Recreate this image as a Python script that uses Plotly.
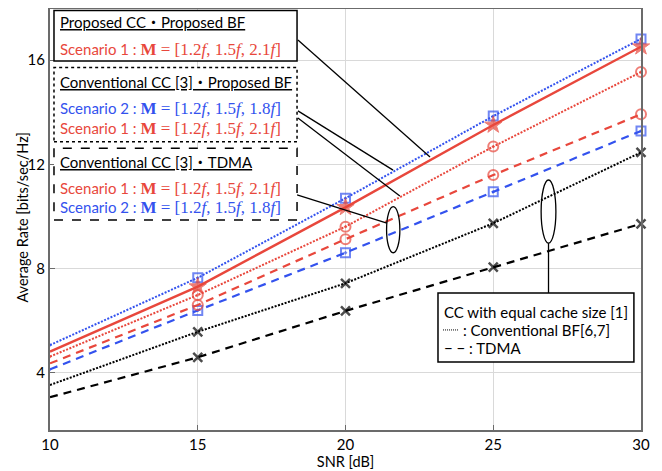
import plotly.graph_objects as go

# ---------------- data ----------------
snr = [10, 15, 20, 25, 30]
prop_cc_prop_bf_s1 = [4.82, 7.31, 10.35, 13.51, 16.51]
conv_cc_prop_bf_s2 = [5.07, 7.65, 10.70, 13.85, 16.81]
conv_cc_prop_bf_s1 = [4.63, 6.99, 9.61, 12.68, 15.54]
conv_cc_tdma_s1 = [4.37, 6.61, 9.13, 11.59, 13.92]
conv_cc_tdma_s2 = [4.14, 6.40, 8.61, 10.95, 13.28]
eq_cache_conv_bf = [3.54, 5.58, 7.44, 9.74, 12.46]
eq_cache_tdma = [3.07, 4.60, 6.38, 8.06, 9.72]

x_ticks = [10, 15, 20, 25, 30]
y_ticks = [4, 8, 12, 16]

RED = "#E8473C"
BLUE = "#3352EE"
SANS = "Lato, 'Noto Sans CJK JP', sans-serif"
SERIF = "'Liberation Serif', 'DejaVu Serif', serif"

fig = go.Figure()


def add_series(y, color, dash, width, symbol, msize, mline=2):
    sizes = [0] + [msize] * (len(snr) - 1)
    fig.add_trace(go.Scatter(
        x=snr, y=y, mode="lines+markers",
        line=dict(color=color, dash=dash, width=width),
        marker=dict(symbol=symbol, size=sizes, color=color,
                    line=dict(color=color, width=mline)),
        showlegend=False, hoverinfo="skip", cliponaxis=False))


add_series(eq_cache_tdma, "black", "8px,6px", 2.2, "x-thin-open", 9, 2.5)
add_series(eq_cache_conv_bf, "black", "2px,1.5px", 2.0, "x-thin-open", 9, 2.5)
add_series(conv_cc_tdma_s2, BLUE, "8px,6px", 2.2, "square-open-dot", 9, 2)
add_series(conv_cc_tdma_s1, RED, "8px,6px", 2.2, "circle-open", 10, 2)
add_series(conv_cc_prop_bf_s1, RED, "2px,1.5px", 2.0, "circle-open-dot", 10, 2)
add_series(conv_cc_prop_bf_s2, BLUE, "2px,1.5px", 2.0, "square-open-dot", 9, 2)
add_series(prop_cc_prop_bf_s1, RED, "solid", 2.4, "star", 13, 1)

shapes = []
annotations = []


def box(x0, x1, y0, y1, dash):
    shapes.append(dict(type="rect", xref="x", yref="y", x0=x0, x1=x1, y0=y0, y1=y1,
                       line=dict(color="black", width=1.5, dash=dash),
                       fillcolor="white", layer="above"))


def text(x, y, s, color="black", size=15):
    annotations.append(dict(x=x, y=y, xref="x", yref="y", text=s, showarrow=False,
                            xanchor="left", yanchor="middle",
                            font=dict(family=SANS, size=size, color=color)))


def scen(n, m3):
    return (f"Scenario {n} : <span style=\"font-family:{SERIF};font-size:17px\">"
            f"<b>M</b> = [1.2<i>f</i>, 1.5<i>f</i>, {m3}<i>f</i>]</span>")


def line(x0, y0, x1, y1, dash="solid", width=1.3):
    shapes.append(dict(type="line", xref="x", yref="y", x0=x0, y0=y0, x1=x1, y1=y1,
                       line=dict(color="black", width=width, dash=dash), layer="above"))


# callout lines
line(18.39, 16.77, 22.86, 12.28)
line(18.39, 14.05, 21.61, 11.78)
line(18.39, 13.78, 21.84, 10.79)
line(18.36, 10.83, 21.40, 9.75)
shapes.append(dict(type="circle", xref="x", yref="y", x0=21.39, x1=21.84, y0=8.61, y1=10.38,
                   line=dict(color="black", width=1.3), layer="above"))
shapes.append(dict(type="circle", xref="x", yref="y", x0=26.62, x1=27.12, y0=8.98, y1=11.40,
                   line=dict(color="black", width=1.3), layer="above"))
line(26.87, 8.98, 26.87, 7.07)

# boxes
box(10.135, 18.36, 15.96, 17.90, "solid")
box(10.135, 18.36, 12.87, 15.71, "dot")
box(10.135, 18.36, 9.87, 12.62, "dash")
box(23.13, 29.76, 4.42, 7.07, "solid")

text(10.27, 17.44, "<u>Proposed CC・Proposed BF</u>")
text(10.27, 16.42, scen(1, "2.1"), RED)
text(10.27, 15.17, "<u>Conventional CC [3]・Proposed BF</u>")
text(10.27, 14.16, scen(2, "1.8"), BLUE)
text(10.27, 13.36, scen(1, "2.1"), RED)
text(10.27, 12.10, "<u>Conventional CC [3]・TDMA</u>")
text(10.27, 11.06, scen(1, "2.1"), RED)
text(10.27, 10.33, scen(2, "1.8"), BLUE)

text(23.26, 6.34, "CC with equal cache size [1]", size=15)
line(23.30, 5.65, 23.84, 5.65, dash="1px,1px", width=1)
text(23.92, 5.65, ": Conventional BF[6,7]", size=15)
text(23.26, 4.96, "− − : TDMA", size=15)

# y-axis title placed as a rotated annotation to sit close to the tick labels
annotations.append(dict(x=-0.047, y=0.505, xref="paper", yref="paper",
                        text="Average Rate [bits/sec/Hz]", showarrow=False, textangle=-90,
                        xanchor="center", yanchor="middle",
                        font=dict(family=SANS, size=14.5, color="black")))

axis_common = dict(showgrid=True, gridcolor="#d9d9d9", gridwidth=1,
                   showline=True, linecolor="#6b6b6b", linewidth=2, mirror=True,
                   ticks="inside", ticklen=5, tickcolor="#6b6b6b", automargin=False,
                   zeroline=False, tickfont=dict(family=SANS, size=15, color="black"))

# the page body has an 8px margin, so the figure is sized/placed to compensate
fig.update_layout(
    width=654, height=463,
    margin=dict(l=42, r=21, t=1, b=41),
    paper_bgcolor="white", plot_bgcolor="white",
    xaxis=dict(range=[10, 30], tickvals=x_ticks,
               title=dict(text="SNR [dB]", font=dict(family=SANS, size=14.5, color="black"), standoff=5),
               **axis_common),
    yaxis=dict(range=[1.814, 17.956], tickvals=y_ticks, **axis_common),
    shapes=shapes, annotations=annotations,
)

fig.write_html("out.html")
